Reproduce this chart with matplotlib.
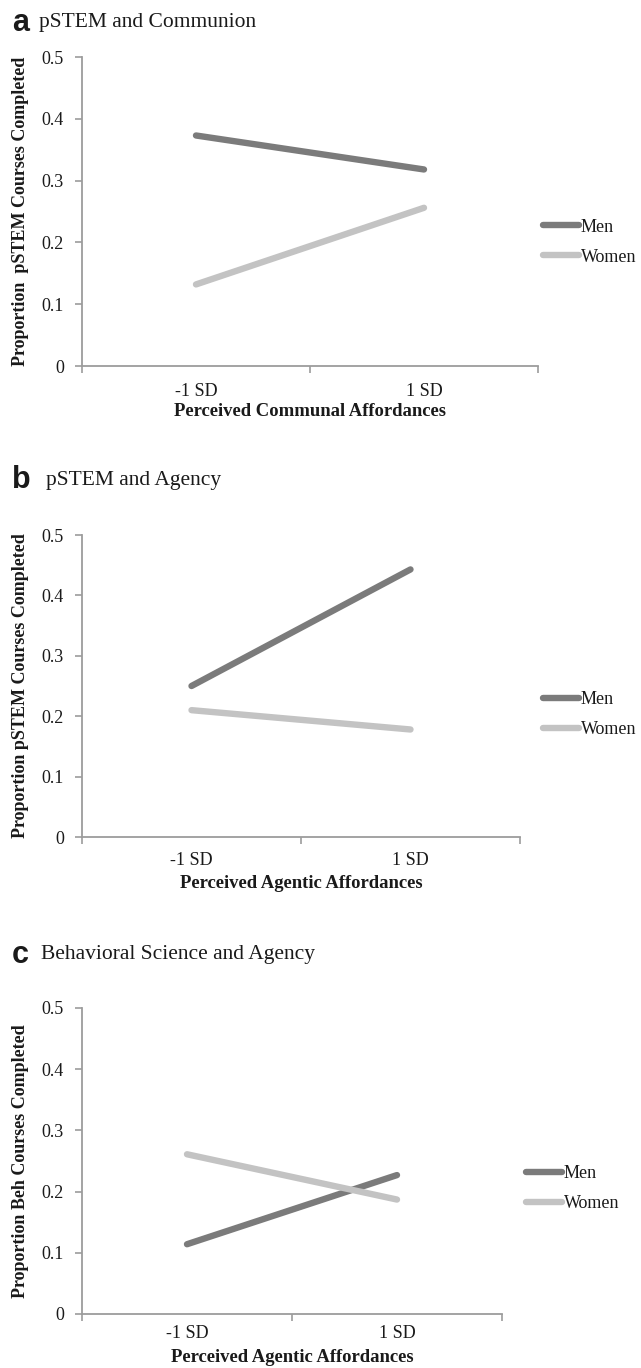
import matplotlib
matplotlib.use("Agg")
import matplotlib.pyplot as plt

# ---------------- data ----------------
categories = ["-1 SD", "1 SD"]
series = ["Men", "Women"]
men_a = [0.373, 0.318]
women_a = [0.132, 0.256]
men_b = [0.250, 0.443]
women_b = [0.210, 0.178]
men_c = [0.114, 0.227]
women_c = [0.261, 0.187]
yticks = [0, 0.1, 0.2, 0.3, 0.4, 0.5]
ytick_labels = ["0", "0.1", "0.2", "0.3", "0.4", "0.5"]
panel_letters = ["a", "b", "c"]
panel_titles = ["pSTEM and Communion", "pSTEM and Agency", "Behavioral Science and Agency"]
ylabels = ["Proportion  pSTEM Courses Completed",
           "Proportion pSTEM Courses Completed",
           "Proportion Beh Courses Completed"]
xlabels = ["Perceived Communal Affordances",
           "Perceived Agentic Affordances",
           "Perceived Agentic Affordances"]

# ---------------- style ----------------
SERIF = "Liberation Serif"
SANS = "Liberation Sans"
MEN_C = "#7b7b7b"
WOMEN_C = "#c3c3c3"
SPINE_C = "#9c9c9c"
TXT_C = "#1a1a1a"

W, H = 641, 1368
fig = plt.figure(figsize=(W / 100, H / 100), dpi=100)


def box(l, r, t, b):
    return [l / W, 1 - b / H, (r - l) / W, (b - t) / H]


layouts = [
    dict(ax=(82, 538, 57, 366), title_y=23, letter_x=12, title_x=39,
         leg_x=543, leg_y=242, xlabel_y=411, pad=12),
    dict(ax=(82, 520, 535, 837), title_y=480, letter_x=12, title_x=46,
         leg_x=543, leg_y=715, xlabel_y=883, pad=11),
    dict(ax=(82, 502, 1008, 1314), title_y=955, letter_x=12, title_x=41,
         leg_x=526, leg_y=1189, xlabel_y=1358, pad=8),
]
data = [(men_a, women_a), (men_b, women_b), (men_c, women_c)]

xpos = [0.5, 1.5]
for i, lay in enumerate(layouts):
    ax = fig.add_axes(box(*lay["ax"]))
    men, women = data[i]
    ax.plot(xpos, men, color=MEN_C, lw=4.6, solid_capstyle="round", label=series[0])
    ax.plot(xpos, women, color=WOMEN_C, lw=4.6, solid_capstyle="round", label=series[1])
    ax.set_xlim(0, 2)
    ax.set_ylim(0, 0.5)
    for s in ["top", "right"]:
        ax.spines[s].set_visible(False)
    for s in ["left", "bottom"]:
        ax.spines[s].set_color(SPINE_C)
        ax.spines[s].set_linewidth(1.3)
    ax.set_yticks(yticks)
    ax.set_yticklabels(ytick_labels, fontfamily=SERIF, fontsize=13, color=TXT_C)
    ax.tick_params(axis="y", direction="out", length=5, width=1.2, color=SPINE_C, pad=8)
    ax.set_xticks([0, 1, 2])
    ax.set_xticklabels([])
    ax.tick_params(axis="x", which="major", direction="out", length=5, width=1.2, color=SPINE_C)
    ax.set_xticks(xpos, minor=True)
    ax.set_xticklabels(categories, minor=True, fontfamily=SERIF, fontsize=13, color=TXT_C)
    ax.tick_params(axis="x", which="minor", length=0, pad=lay["pad"])
    ax.set_ylabel(ylabels[i], fontfamily=SERIF, fontsize=13, fontweight="bold", color=TXT_C)
    ax.yaxis.set_label_coords((21 - lay["ax"][0]) / (lay["ax"][1] - lay["ax"][0]), 0.5)
    ax.yaxis.label.set_verticalalignment("center")
    fig.text(((lay["ax"][0] + lay["ax"][1]) / 2) / W, 1 - lay["xlabel_y"] / H, xlabels[i],
             fontfamily=SERIF, fontsize=13.4, fontweight="bold", color=TXT_C,
             ha="center", va="center")
    fig.text(lay["letter_x"] / W, 1 - lay["title_y"] / H, panel_letters[i],
             fontfamily=SANS, fontsize=22, fontweight="bold", color=TXT_C,
             ha="left", va="center")
    fig.text(lay["title_x"] / W, 1 - lay["title_y"] / H, panel_titles[i],
             fontfamily=SERIF, fontsize=15.5, color=TXT_C, ha="left", va="center")
    leg = ax.legend(loc="center left", bbox_to_anchor=(lay["leg_x"] / W, 1 - lay["leg_y"] / H),
                    bbox_transform=fig.transFigure, frameon=False, borderpad=0,
                    borderaxespad=0, handlelength=2.0, handletextpad=0.1,
                    labelspacing=0.72, prop=dict(family=SERIF, size=13))
    for t in leg.get_texts():
        t.set_color(TXT_C)

fig.savefig("out.png", dpi=100)
